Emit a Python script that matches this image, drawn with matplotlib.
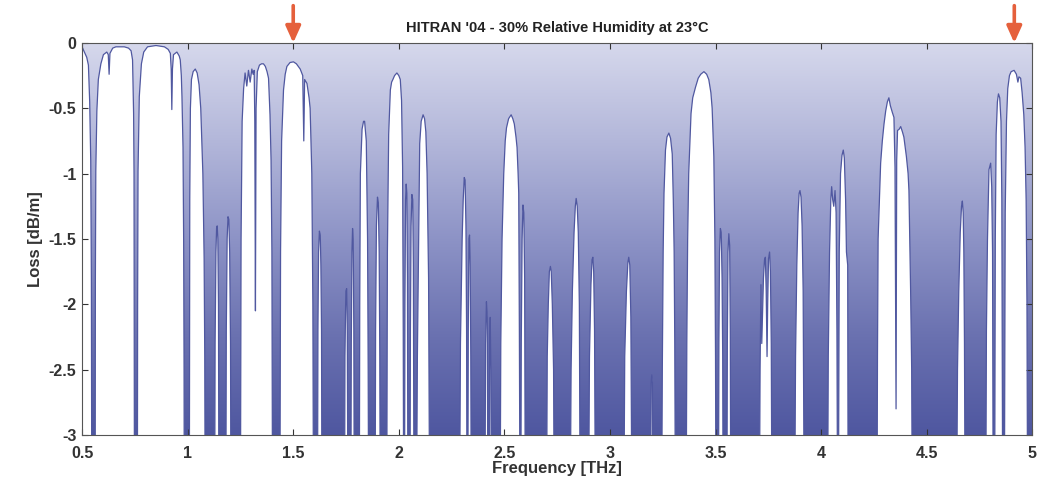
import numpy as np
import matplotlib.pyplot as plt
from matplotlib.colors import LinearSegmentedColormap
from matplotlib.patches import Polygon

freq_thz = [
    0.500, 0.508, 0.522, 0.530, 0.536, 0.541, 0.544, 0.546,
    0.562, 0.563, 0.565, 0.570, 0.577, 0.589, 0.601, 0.617, 0.624, 0.628, 0.632, 0.645, 0.660, 0.700, 0.720, 0.732, 0.739, 0.744, 0.746, 0.747, 0.748,
    0.762, 0.763, 0.765, 0.771, 0.781, 0.792, 0.810, 0.850, 0.890, 0.908, 0.918, 0.922, 0.925, 0.928, 0.933, 0.949, 0.960, 0.965, 0.970, 0.973, 0.978, 0.981, 0.983, 0.984,
    1.008, 1.010, 1.013, 1.018, 1.026, 1.036, 1.045, 1.054, 1.062, 1.068, 1.072, 1.078, 1.081, 1.083,
    1.128, 1.130, 1.134, 1.137, 1.140, 1.143, 1.146, 1.148,
    1.181, 1.183, 1.187, 1.191, 1.195, 1.199, 1.203, 1.205,
    1.250, 1.253, 1.258, 1.265, 1.272, 1.280, 1.288, 1.296, 1.304, 1.310, 1.315, 1.318, 1.321, 1.324, 1.330, 1.340, 1.350, 1.359, 1.368, 1.376, 1.383, 1.390, 1.395, 1.399, 1.402,
    1.437, 1.440, 1.445, 1.454, 1.462, 1.470, 1.485, 1.501, 1.515, 1.533, 1.545, 1.550, 1.554, 1.565, 1.575, 1.580, 1.588, 1.593, 1.596,
    1.615, 1.617, 1.620, 1.624, 1.628, 1.631, 1.634, 1.636,
    1.743, 1.745, 1.749, 1.753, 1.756, 1.759,
    1.773, 1.775, 1.778, 1.781, 1.784, 1.787, 1.789,
    1.813, 1.815, 1.818, 1.826, 1.833, 1.838, 1.846, 1.852, 1.855, 1.857,
    1.888, 1.890, 1.894, 1.899, 1.903, 1.907, 1.910, 1.912,
    1.943, 1.946, 1.952, 1.960, 1.966, 1.972, 1.980, 1.991, 2.000, 2.007, 2.013, 2.018, 2.021, 2.023,
    2.027, 2.029, 2.032, 2.035, 2.038, 2.041, 2.043,
    2.053, 2.055, 2.058, 2.062, 2.066, 2.069, 2.072,
    2.084, 2.088, 2.094, 2.099, 2.106, 2.115, 2.122, 2.128, 2.134, 2.141, 2.146,
    2.288, 2.292, 2.300, 2.305, 2.310, 2.314, 2.318, 2.321, 2.323,
    2.327, 2.329, 2.332, 2.335, 2.338, 2.341, 2.343,
    2.408, 2.411, 2.415, 2.419, 2.422, 2.428, 2.430, 2.433, 2.436, 2.438,
    2.480, 2.483, 2.489, 2.497, 2.504, 2.510, 2.520, 2.532, 2.540, 2.547, 2.555, 2.560, 2.565, 2.568, 2.571, 2.574,
    2.578, 2.580, 2.584, 2.588, 2.592, 2.596, 2.599,
    2.700, 2.703, 2.708, 2.713, 2.718, 2.722, 2.727, 2.733, 2.736,
    2.812, 2.816, 2.822, 2.830, 2.836, 2.840, 2.845, 2.850, 2.855, 2.859,
    2.899, 2.903, 2.910, 2.915, 2.919, 2.923, 2.927, 2.931,
    3.066, 3.070, 3.078, 3.085, 3.089, 3.094, 3.099, 3.104,
    3.193, 3.195, 3.198, 3.201, 3.204,
    3.245, 3.248, 3.252, 3.256, 3.263, 3.270, 3.279, 3.287, 3.295, 3.300, 3.304, 3.307, 3.310,
    3.361, 3.364, 3.368, 3.373, 3.380, 3.384, 3.392, 3.405, 3.418, 3.430, 3.445, 3.458, 3.468, 3.478, 3.484, 3.492, 3.497, 3.500, 3.502,
    3.514, 3.516, 3.519, 3.523, 3.527, 3.531, 3.534, 3.536,
    3.554, 3.556, 3.559, 3.563, 3.567, 3.570, 3.572,
    3.708, 3.711, 3.715, 3.719, 3.722, 3.727, 3.732, 3.736, 3.740, 3.744, 3.747, 3.751, 3.756, 3.760, 3.764, 3.767,
    3.875, 3.879, 3.885, 3.891, 3.896, 3.900, 3.905, 3.910, 3.915, 3.920,
    4.031, 4.034, 4.040, 4.046, 4.050, 4.055, 4.060, 4.066, 4.071, 4.075, 4.078,
    4.082, 4.086, 4.092, 4.099, 4.105, 4.110, 4.116, 4.120, 4.126, 4.128,
    4.265, 4.267, 4.270, 4.276, 4.282, 4.290, 4.298, 4.306, 4.314, 4.321, 4.328, 4.337, 4.345, 4.350, 4.355, 4.358, 4.362, 4.370, 4.377, 4.385, 4.392, 4.404, 4.412, 4.416, 4.420, 4.424, 4.429, 4.432,
    4.642, 4.646, 4.652, 4.659, 4.665, 4.669, 4.673, 4.676, 4.679, 4.682,
    4.780, 4.783, 4.788, 4.795, 4.803, 4.808, 4.812, 4.815,
    4.822, 4.825, 4.829, 4.835, 4.840, 4.846, 4.852, 4.856, 4.860,
    4.868, 4.872, 4.878, 4.884, 4.892, 4.900, 4.914, 4.925, 4.932, 4.937, 4.945, 4.952, 4.960, 4.966, 4.971, 4.975, 4.978,
    5.000,
]
loss_db = [
    -0.03, -0.06, -0.11, -0.17, -0.45, -0.9, -1.8, -3.6,
    -3.6, -1.8, -0.98, -0.52, -0.28, -0.16, -0.09, -0.07, -0.09, -0.24, -0.08, -0.04, -0.03, -0.03, -0.04, -0.06, -0.13, -0.54, -1.0, -2.0, -3.6,
    -3.6, -2.0, -0.98, -0.41, -0.16, -0.07, -0.03, -0.02, -0.03, -0.05, -0.08, -0.2, -0.51, -0.2, -0.09, -0.07, -0.1, -0.13, -0.25, -0.41, -0.8, -1.5, -2.5, -3.6,
    -3.6, -1.2, -0.5, -0.28, -0.22, -0.2, -0.23, -0.32, -0.5, -0.8, -1.0, -1.65, -2.4, -3.6,
    -3.6, -2.3, -1.6, -1.42, -1.40, -1.50, -2.0, -3.6,
    -3.6, -2.2, -1.5, -1.33, -1.35, -1.6, -2.3, -3.6,
    -3.6, -1.5, -0.6, -0.35, -0.23, -0.33, -0.21, -0.3, -0.2, -0.24, -0.21, -0.6, -2.05, -0.5, -0.22, -0.17, -0.16, -0.16, -0.18, -0.22, -0.27, -0.55, -0.9, -1.6, -3.6,
    -3.6, -1.6, -0.75, -0.36, -0.24, -0.18, -0.15, -0.145, -0.16, -0.2, -0.25, -0.75, -0.28, -0.31, -0.42, -0.5, -1.0, -2.0, -3.6,
    -3.6, -2.2, -1.6, -1.44, -1.47, -1.7, -2.2, -3.6,
    -3.6, -2.4, -1.9, -1.88, -2.2, -3.6,
    -3.6, -2.3, -1.6, -1.42, -1.5, -2.2, -3.6,
    -3.6, -2.0, -1.0, -0.66, -0.6, -0.6, -0.75, -1.5, -2.5, -3.6,
    -3.6, -2.2, -1.4, -1.18, -1.22, -1.6, -2.4, -3.6,
    -3.6, -1.6, -0.7, -0.36, -0.3, -0.28, -0.25, -0.23, -0.25, -0.28, -0.44, -0.95, -2.2, -3.6,
    -3.6, -2.0, -1.2, -1.08, -1.15, -1.8, -3.6,
    -3.6, -2.2, -1.4, -1.16, -1.2, -1.7, -3.6,
    -3.6, -2.4, -1.5, -0.77, -0.6, -0.55, -0.58, -0.68, -1.0, -1.8, -3.6,
    -3.6, -2.3, -1.5, -1.2, -1.03, -1.05, -1.4, -2.2, -3.6,
    -3.6, -2.2, -1.5, -1.47, -1.7, -2.4, -3.6,
    -3.6, -2.3, -1.98, -2.1, -3.6, -3.6, -2.3, -2.1, -2.5, -3.6,
    -3.6, -2.3, -1.5, -1.0, -0.75, -0.65, -0.58, -0.55, -0.58, -0.62, -0.72, -0.8, -1.0, -1.15, -2.2, -3.6,
    -3.6, -2.3, -1.5, -1.24, -1.3, -1.8, -3.6,
    -3.6, -2.4, -2.0, -1.75, -1.71, -1.75, -2.0, -2.5, -3.6,
    -3.6, -2.5, -1.9, -1.45, -1.25, -1.19, -1.25, -1.45, -2.0, -3.6,
    -3.6, -2.4, -1.85, -1.66, -1.64, -1.75, -2.2, -3.6,
    -3.6, -2.4, -1.9, -1.68, -1.64, -1.7, -2.1, -3.6,
    -3.6, -2.6, -2.54, -2.6, -3.6,
    -3.6, -2.5, -1.6, -1.15, -0.82, -0.72, -0.69, -0.73, -0.85, -1.2, -1.6, -2.3, -3.6,
    -3.6, -2.3, -1.5, -1.0, -0.7, -0.54, -0.42, -0.34, -0.27, -0.24, -0.22, -0.24, -0.28, -0.38, -0.5, -0.87, -1.5, -2.4, -3.6,
    -3.6, -2.3, -1.6, -1.42, -1.45, -1.8, -2.4, -3.6,
    -3.6, -2.3, -1.6, -1.46, -1.55, -2.2, -3.6,
    -3.6, -2.5, -1.85, -2.3, -2.1, -1.8, -1.66, -1.64, -1.9, -2.4, -2.0, -1.65, -1.6, -1.75, -2.3, -3.6,
    -3.6, -2.4, -1.7, -1.3, -1.15, -1.13, -1.18, -1.4, -1.9, -3.6,
    -3.6, -2.4, -1.6, -1.2, -1.1, -1.2, -1.25, -1.13, -1.3, -2.2, -3.6,
    -3.6, -1.6, -1.0, -0.86, -0.82, -0.88, -1.2, -1.6, -1.7, -3.6,
    -3.6, -2.4, -1.5, -1.2, -0.92, -0.75, -0.62, -0.52, -0.45, -0.42, -0.48, -0.53, -0.57, -0.95, -2.8, -0.9, -0.67, -0.66, -0.64, -0.68, -0.72, -0.87, -1.0, -1.13, -1.5, -1.9, -2.5, -3.6,
    -3.6, -2.5, -1.9, -1.45, -1.25, -1.21, -1.3, -1.6, -2.3, -3.6,
    -3.6, -2.2, -1.5, -0.97, -0.92, -1.1, -1.6, -3.6,
    -3.6, -1.5, -0.7, -0.45, -0.39, -0.42, -0.6, -1.2, -3.6,
    -3.6, -1.3, -0.6, -0.35, -0.25, -0.22, -0.21, -0.24, -0.3, -0.26, -0.27, -0.38, -0.55, -0.8, -1.2, -2.0, -3.6,
    -3.6,
]

x_ticks = [0.5, 1, 1.5, 2, 2.5, 3, 3.5, 4, 4.5, 5]
x_tick_labels = ['0.5', '1', '1.5', '2', '2.5', '3', '3.5', '4', '4.5', '5']
y_ticks = [0, -0.5, -1, -1.5, -2, -2.5, -3]
y_tick_labels = ['0', '-0.5', '-1', '-1.5', '-2', '-2.5', '-3']
arrow_freqs = [1.5, 4.915]

plt.rcParams['font.family'] = ['Liberation Sans', 'DejaVu Sans']

fig = plt.figure(figsize=(10.39, 4.82), dpi=100)
ax = fig.add_axes([0.079, 0.0975, 0.9145, 0.8135])

# vertical gradient above the curve
cmap = LinearSegmentedColormap.from_list(
    'hum', ['#d6d8ec', '#b3b7da', '#8d93c6', '#6a71b0', '#4f57a0'])
grad = np.linspace(0, 1, 256).reshape(-1, 1)
im = ax.imshow(grad, cmap=cmap, extent=[0.5, 5, -3, 0], aspect='auto',
               origin='upper', zorder=1)
verts = [(freq_thz[0], 0)] + list(zip(freq_thz, loss_db)) + [(freq_thz[-1], 0)]
clip = Polygon(verts, closed=True, facecolor='none', edgecolor='none')
ax.add_patch(clip)
im.set_clip_path(clip)

ax.plot(freq_thz, loss_db, color='#5058a0', lw=0.9, zorder=2)

ax.set_xlim(0.5, 5)
ax.set_ylim(-3, 0)
ax.set_xticks(x_ticks)
ax.set_xticklabels(x_tick_labels, fontweight='bold')
ax.set_yticks(y_ticks)
ax.set_yticklabels(y_tick_labels, fontweight='bold')
ax.tick_params(direction='in', top=True, right=True, length=4, width=0.8,
               labelsize=11.5, colors='#333333')
ax.tick_params(axis='x', pad=8)
ax.tick_params(axis='y', pad=4)
for s in ax.spines.values():
    s.set_color('#555555')
    s.set_linewidth(0.8)

ax.set_title("HITRAN '04 - 30% Relative Humidity at 23°C", fontsize=10.5,
             fontweight='bold', pad=8, color='#222222')
ax.set_xlabel('Frequency [THz]', fontsize=12, fontweight='bold', labelpad=0, color='#333333')
ax.set_ylabel('Loss [dB/m]', fontsize=12, fontweight='bold', labelpad=4, color='#333333')

for f in arrow_freqs:
    ax.annotate('', xy=(f, 1.0), xycoords=('data', 'axes fraction'),
                xytext=(f, 1.095), textcoords=('data', 'axes fraction'),
                arrowprops=dict(arrowstyle='-|>,head_width=0.45,head_length=1.0',
                                color='#e5603c', lw=2.6, shrinkA=0, shrinkB=0),
                annotation_clip=False)

fig.savefig('out.png', dpi=100)
